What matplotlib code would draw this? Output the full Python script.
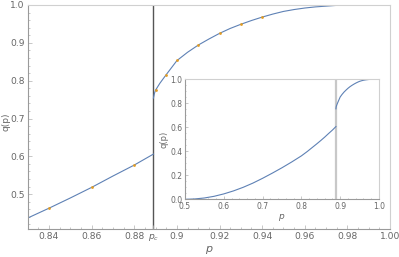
import matplotlib
matplotlib.use("Agg")
import matplotlib.pyplot as plt
from matplotlib.ticker import MultipleLocator

# --------------------------------------------------
# Data
# --------------------------------------------------

p_c = 0.889

# lower branch, p < p_c
p_low = [0.500, 0.525, 0.550, 0.575, 0.600, 0.625, 0.650, 0.675, 0.700,
         0.725, 0.750, 0.775, 0.800, 0.815, 0.830, 0.840, 0.850, 0.860,
         0.870, 0.880, 0.889]
q_low = [0.000, 0.003, 0.011, 0.025, 0.045, 0.070, 0.100, 0.135, 0.175,
         0.218, 0.263, 0.311, 0.362, 0.398, 0.437, 0.463, 0.490, 0.518,
         0.548, 0.577, 0.606]

# upper branch, p >= p_c
p_high = [0.889, 0.8895, 0.890, 0.892, 0.895, 0.900, 0.905, 0.910, 0.915,
          0.920, 0.925, 0.930, 0.935, 0.940, 0.945, 0.950, 0.955, 0.960,
          0.965, 0.970, 0.975, 0.980, 0.990, 1.000]
q_high = [0.754, 0.767, 0.775, 0.793, 0.816, 0.853, 0.875, 0.894, 0.910,
          0.925, 0.938, 0.949, 0.959, 0.968, 0.976, 0.983, 0.988, 0.992,
          0.995, 0.997, 0.999, 1.000, 1.000, 1.000]

# simulation points
p_sim = [0.84, 0.86, 0.88, 0.89, 0.895, 0.90, 0.91, 0.92, 0.93, 0.94]
q_sim = [0.463, 0.518, 0.577, 0.775, 0.816, 0.854, 0.894, 0.925, 0.949, 0.969]

main_xticks = [0.84, 0.86, 0.88, p_c, 0.90, 0.92, 0.94, 0.96, 0.98, 1.00]
main_xlabels = ["0.84", "0.86", "0.88", r"$p_c$", "0.9", "0.92", "0.94",
                "0.96", "0.98", "1.00"]
main_yticks = [0.5, 0.6, 0.7, 0.8, 0.9, 1.0]

inset_xticks = [0.5, 0.6, 0.7, 0.8, 0.9, 1.0]
inset_yticks = [0.0, 0.2, 0.4, 0.6, 0.8, 1.0]

# --------------------------------------------------
# Style
# --------------------------------------------------

blue = "#5e81b5"
orange = "#e19c24"
label_gray = "#666666"

W, H = 399, 257
fig = plt.figure(figsize=(W / 100, H / 100), dpi=100)


def style_frame(ax, size, major_len, minor_len):
    for side in ("left", "bottom"):
        ax.spines[side].set_color("#9a9a9a")
        ax.spines[side].set_linewidth(0.8)
    for side in ("top", "right"):
        ax.spines[side].set_color("#d0d0d0")
        ax.spines[side].set_linewidth(0.8)
    ax.tick_params(which="both", direction="in", color="#b0b0b0",
                   labelcolor=label_gray, labelsize=size, width=0.5)
    ax.tick_params(which="major", length=major_len, pad=2)
    ax.tick_params(which="minor", length=minor_len)


# --------------------------------------------------
# Main axes
# --------------------------------------------------

ax = fig.add_axes([27.7 / W, 1 - 229 / H, (390 - 27.7) / W, (229 - 5) / H])

ax.plot(p_low, q_low, color=blue, lw=0.8, zorder=2)
ax.plot(p_high, q_high, color=blue, lw=0.8, zorder=2)
ax.plot(p_sim, q_sim, "o", color=orange, ms=2.0, mew=0, zorder=3)
ax.axvline(p_c, color="#555555", lw=1.0, zorder=1)

ax.set_xlim(0.83, 1.0)
ax.set_ylim(0.408, 1.0)
ax.set_xticks(main_xticks)
ax.set_xticklabels(main_xlabels)
ax.set_yticks(main_yticks)
ax.xaxis.set_minor_locator(MultipleLocator(0.005))
ax.yaxis.set_minor_locator(MultipleLocator(0.02))
style_frame(ax, 6.6, 3, 1.5)

ax.set_xlabel("$p$", color=label_gray, fontsize=8, labelpad=1)
ax.set_ylabel("q(p)", color=label_gray, fontsize=6.5, va="center")
ax.yaxis.set_label_coords(-0.06, 0.48)

# --------------------------------------------------
# Inset
# --------------------------------------------------

ins = fig.add_axes([185 / W, 1 - 199.3 / H, (379 - 185) / W, (199.3 - 79.3) / H])
ins.set_facecolor("white")

ins.plot(p_low, q_low, color=blue, lw=0.8, zorder=2)
ins.plot(p_high, q_high, color=blue, lw=0.8, zorder=2)
ins.axvline(p_c, color="#c8c8c8", lw=1.6, zorder=1)

ins.set_xlim(0.5, 1.0)
ins.set_ylim(0.0, 1.0)
ins.set_xticks(inset_xticks)
ins.set_yticks(inset_yticks)
ins.xaxis.set_minor_locator(MultipleLocator(0.02))
ins.yaxis.set_minor_locator(MultipleLocator(0.05))
style_frame(ins, 5.5, 2, 1)

ins.set_xlabel("$p$", color=label_gray, fontsize=6.5, labelpad=1)
ins.set_ylabel("q(p)", color=label_gray, fontsize=6, labelpad=1)

fig.savefig("out.png", dpi=100)
